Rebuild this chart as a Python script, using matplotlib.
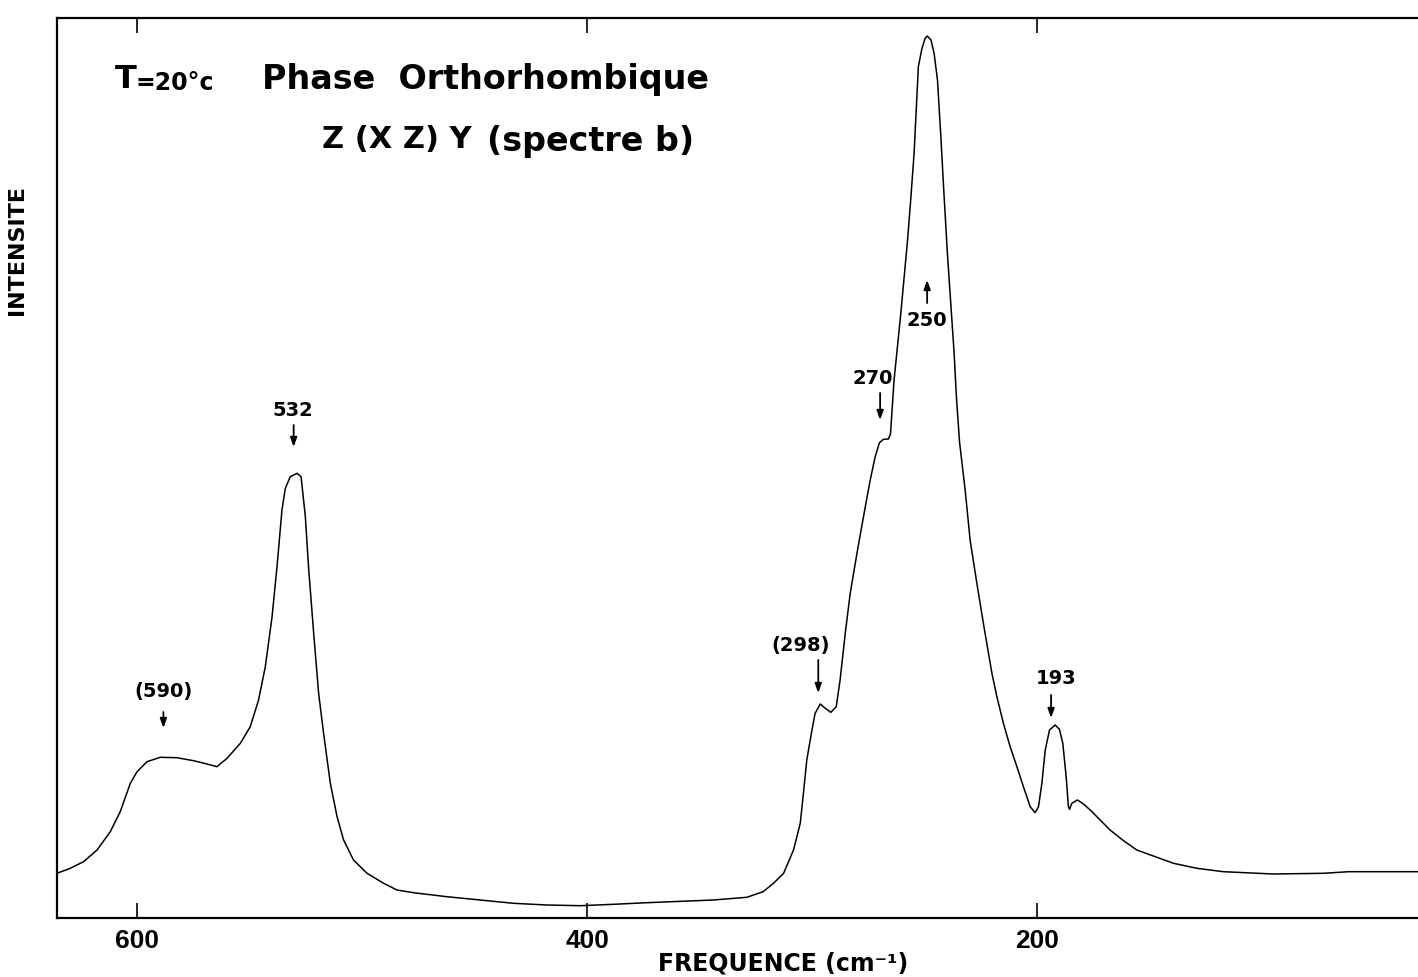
import matplotlib.pyplot as plt

# DATA (cm-1 vs. arbitrary intensity)

freq = [635.7, 629.8, 623.9, 617.9, 612.0, 607.6, 603.1, 600.1, 595.7, 589.8,
        582.4, 575.0, 569.0, 564.6, 560.1, 554.2, 549.8, 546.1, 543.1, 540.1,
        537.9, 535.7, 534.2, 532.0, 529.0, 527.2, 526.4, 525.3, 523.9, 521.6,
        519.4, 517.2, 514.2, 511.2, 508.3, 503.9, 497.9, 490.5, 484.6, 477.2,
        462.4, 447.6, 432.8, 417.9, 403.1, 388.3, 373.5, 358.7, 343.9, 329.0,
        321.8, 317.2, 312.7, 308.3, 305.3, 303.9, 302.4, 300.1, 298.7, 296.4,
        294.2, 291.7, 289.3, 287.6, 285.3, 283.1, 280.1, 277.2, 274.2, 272.0,
        270.1, 268.3, 266.1, 265.2, 264.6, 263.6, 262.1, 260.6, 259.1, 257.6,
        256.1, 254.7, 253.6, 252.8, 251.2, 249.8, 248.8, 247.2, 245.8, 244.3,
        243.6, 242.8, 241.6, 239.9, 238.4, 236.9, 235.9, 234.5, 232.0, 229.8,
        226.8, 223.9, 220.1, 217.9, 215.0, 212.0, 209.0, 206.1, 203.1, 200.9,
        199.4, 197.9, 196.4, 194.5, 192.0, 190.1, 188.6, 187.1, 186.1, 185.6,
        184.6, 182.1, 179.4, 176.4, 172.0, 167.6, 161.6, 155.7, 146.8, 139.4,
        129.0, 117.2, 95.0, 72.7, 61.6, 30.7]
intensity = [44.7, 49.7, 56.3, 68.0, 86.3, 106.3, 134.7, 146.3, 156.3, 160.7,
             160.3, 157.3, 154.0, 151.3, 159.7, 174.7, 191.3, 218.0, 251.3, 301.3,
             351.3, 408.0, 429.7, 441.3, 444.7, 441.3, 424.7, 401.3, 351.3, 284.7,
             224.7, 184.7, 134.7, 101.3, 78.0, 58.0, 44.7, 34.7, 28.0, 25.3,
             21.3, 18.0, 14.7, 13.0, 12.3, 13.7, 15.3, 16.7, 18.0, 20.7,
             26.3, 34.7, 44.7, 68.0, 94.7, 124.7, 158.0, 188.0, 204.7, 214.0,
             209.7, 205.7, 211.3, 238.0, 284.7, 324.7, 364.7, 401.3, 438.0, 461.3,
             475.3, 478.7, 479.0, 484.0, 504.0, 538.0, 571.3, 604.7, 641.3, 678.0,
             721.3, 764.7, 814.7, 851.3, 869.7, 879.7, 882.0, 878.0, 864.7, 838.0,
             811.3, 781.3, 731.3, 664.7, 614.7, 564.7, 521.3, 476.0, 428.0, 378.0,
             334.7, 294.7, 244.7, 221.3, 194.7, 171.3, 151.3, 131.3, 111.3, 105.3,
             111.3, 134.7, 168.0, 188.0, 193.0, 188.7, 174.7, 141.3, 111.3, 108.7,
             114.7, 118.0, 114.0, 108.0, 98.0, 88.0, 77.3, 68.0, 60.7, 54.7,
             49.7, 46.3, 44.0, 44.7, 46.3, 46.3]

# peak labels: text, text position, arrow x, arrow tail -> head
peak_labels = ["(590)", "532", "(298)", "270", "250", "193"]
label_x = [588.4, 530.7, 305.3, 273.3, 248.9, 191.5]
label_y = [226, 508, 273, 540, 598, 240]
arrow_x = [588.4, 530.5, 297.3, 269.8, 248.9, 193.8]
arrow_from = [206, 493, 258, 525, 615, 223]
arrow_to = [190, 471, 225, 498, 638, 200]

xticks = [600, 400, 200]

plt.rcParams["font.family"] = ["DejaVu Sans"]

fig = plt.figure(figsize=(14.18, 9.77), dpi=100)
ax = fig.add_axes([57 / 1418, 59 / 977, 1361 / 1418, 900 / 977])

ax.plot(freq, intensity, color="black", linewidth=1.1)

ax.set_xlim(635.7, 30.7)
ax.set_ylim(0, 900)

for txt, tx, ty, axx, a0, a1 in zip(peak_labels, label_x, label_y,
                                     arrow_x, arrow_from, arrow_to):
    ax.text(tx, ty, txt, ha="center", va="center", fontsize=14,
            fontweight="bold")
    ax.annotate("", xy=(axx, a1), xytext=(axx, a0),
                arrowprops=dict(arrowstyle="-|>,head_length=0.55,head_width=0.2",
                                color="black", lw=1.3, shrinkA=0, shrinkB=0))

# header text
ax.text(609.8, 838, "T", ha="left", va="center", fontsize=23, fontweight="bold")
ax.text(600.6, 835, "=20°c", ha="left", va="center", fontsize=17,
        fontweight="bold")
ax.text(544.4, 838, "Phase  Orthorhombique", ha="left", va="center",
        fontsize=24, fontweight="bold")
ax.text(517.8, 778, "Z (X Z) Y", ha="left", va="center", fontsize=22,
        fontweight="bold")
ax.text(444.4, 777, "(spectre b)", ha="left", va="center", fontsize=24,
        fontweight="bold")

ax.set_xticks(xticks)
ax.set_xticklabels([str(t) for t in xticks], fontsize=19, fontweight="bold",
                   family="Liberation Sans")
ax.set_yticks([])
ax.tick_params(axis="x", direction="in", length=11, width=1.2, top=True,
               pad=8)

ax.set_xlabel("FREQUENCE (cm⁻¹)", fontsize=17, fontweight="bold")
ax.xaxis.set_label_coords((783 - 57) / 1361, -33 / 900)
ax.set_ylabel("INTENSITE", fontsize=16, fontweight="bold")
ax.yaxis.set_label_coords(-30 / 1361, (918 - 250) / 900)

for side in ["left", "bottom", "top"]:
    ax.spines[side].set_linewidth(1.6)
ax.spines["right"].set_visible(False)

plt.savefig("out.png", dpi=100)
